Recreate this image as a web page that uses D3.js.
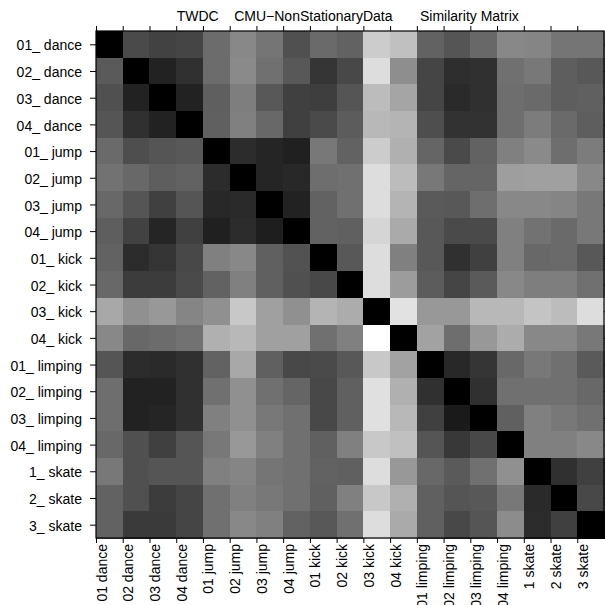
<!DOCTYPE html>
<html>
<head>
<meta charset="utf-8">
<script src="https://cdn.jsdelivr.net/npm/d3@7"></script>
<style>
  html, body { margin: 0; padding: 0; background: #fff; }
  svg { display: block; }
  text { font-family: "Liberation Sans", Arial, Helvetica, sans-serif; fill: #000; }
</style>
</head>
<body>
<svg id="chart" width="605" height="605"></svg>
<script>
const rowLabels = ["01_ dance","02_ dance","03_ dance","04_ dance","01_ jump","02_ jump","03_ jump","04_ jump",
  "01_ kick","02_ kick","03_ kick","04_ kick","01_ limping","02_ limping","03_ limping","04_ limping",
  "1_ skate","2_ skate","3_ skate"];
const colLabels = ["01 dance","02 dance","03 dance","04 dance","01 jump","02 jump","03 jump","04 jump",
  "01 kick","02 kick","03 kick","04 kick","01 limping","02 limping","03 limping","04 limping",
  "1 skate","2 skate","3 skate"];
const titleParts = ["TWDC", "CMU\u2212NonStationaryData", "Similarity Matrix"];

// dissimilarity level (0 = identical / black, 255 = white)
const r00 = [0,74,66,69,108,136,117,80,106,98,204,192,98,85,104,136,133,117,117];
const r01 = [90,0,34,48,108,138,112,88,53,72,221,142,69,46,48,112,120,94,88];
const r02 = [80,34,0,34,95,126,88,64,62,85,188,165,69,42,48,110,106,94,96];
const r03 = [85,48,34,0,96,128,104,64,74,92,184,180,78,50,50,110,124,106,94];
const r04 = [106,78,85,88,0,44,37,32,120,98,204,176,101,74,98,128,138,110,124];
const r05 = [114,104,94,98,44,0,37,40,110,112,221,188,120,101,101,158,160,160,136];
const r06 = [104,85,64,85,40,42,0,34,98,112,221,180,90,88,110,136,136,133,120];
const r07 = [94,66,37,64,32,44,30,0,98,96,213,170,88,74,74,128,114,106,120];
const r08 = [98,44,53,72,128,136,96,82,0,88,221,128,88,48,64,128,104,106,88];
const r09 = [104,60,60,74,98,128,96,80,72,0,221,156,92,69,90,136,126,126,112];
const r10 = [168,144,152,133,144,200,160,144,180,172,0,226,152,152,184,184,196,188,221];
const r11 = [136,104,108,114,176,184,160,160,112,128,255,0,162,110,152,172,136,136,120];
const r12 = [85,44,42,48,98,168,96,72,74,88,200,162,0,40,53,104,120,112,90];
const r13 = [110,34,34,48,112,144,112,101,72,96,224,176,48,0,48,112,112,112,104];
const r14 = [110,34,37,48,128,144,120,112,72,96,224,184,64,26,0,96,128,120,112];
const r15 = [104,80,64,85,120,152,128,112,96,128,200,192,85,56,72,0,128,128,136];
const r16 = [120,80,85,85,128,133,117,112,98,96,221,152,104,90,112,144,0,48,64];
const r17 = [98,80,60,69,112,128,120,112,96,128,200,176,96,85,88,120,42,0,72];
const r18 = [98,58,58,69,112,136,128,98,88,112,221,170,96,72,85,140,44,64,0];
const matrix = [r00,r01,r02,r03,r04,r05,r06,r07,r08,r09,r10,r11,r12,r13,r14,r15,r16,r17,r18];

const svg = d3.select("#chart");
const L = 96, R = 604, T = 31, B = 538;
const n = rowLabels.length;

const xBand = d3.scaleBand().domain(d3.range(n)).range([L, R]).padding(0);
const yBand = d3.scaleBand().domain(d3.range(n)).range([T, B]).padding(0);
const color = d3.scaleLinear().domain([0, 255]).range(["#000000", "#ffffff"]);

const cells = [];
matrix.forEach((row, i) => row.forEach((v, j) => cells.push({i, j, v})));

svg.append("g").selectAll("rect").data(cells).join("rect")
  .attr("x", d => xBand(d.j))
  .attr("y", d => yBand(d.i))
  .attr("width", xBand.bandwidth() + 0.5)
  .attr("height", yBand.bandwidth() + 0.5)
  .attr("fill", d => color(d.v))
  .attr("shape-rendering", "crispEdges");

// frame
svg.append("rect").attr("x", L).attr("y", T).attr("width", R - L).attr("height", B - T)
  .attr("fill", "none").attr("stroke", "#000").attr("stroke-width", 1.2);

// left axis (ticks at row centres)
const yPoint = d3.scalePoint().domain(d3.range(n)).range([T + yBand.bandwidth()/2, B - yBand.bandwidth()/2]);
const gl = svg.append("g").attr("transform", `translate(${L},0)`)
  .call(d3.axisLeft(yPoint).tickSize(6).tickPadding(8).tickFormat(i => rowLabels[i]));
gl.select(".domain").remove();
gl.selectAll("text").style("font-size", "14px").attr("dy", "0.4em");

// right axis ticks
const gr = svg.append("g").attr("transform", `translate(${R},0)`)
  .call(d3.axisRight(yPoint).tickSize(4).tickFormat(""));
gr.select(".domain").remove();

// top axis ticks at column left edges
const xEdge = d3.scaleLinear().domain([0, n]).range([L, R]);
const gt = svg.append("g").attr("transform", `translate(0,${T})`)
  .call(d3.axisTop(xEdge).tickValues(d3.range(n)).tickSize(5).tickFormat(""));
gt.select(".domain").remove();

// bottom axis with rotated labels
const gb = svg.append("g").attr("transform", `translate(0,${B})`)
  .call(d3.axisBottom(xEdge).tickValues(d3.range(n)).tickSize(5).tickFormat(i => colLabels[i]));
gb.select(".domain").remove();
gb.selectAll("text")
  .style("font-size", "14px")
  .attr("x", 0).attr("y", 0).attr("dy", 0)
  .attr("transform", "translate(10,6) rotate(-90)")
  .style("text-anchor", "end");

// title
const titleX = [176.7, 234.2, 420];
svg.append("g").selectAll("text").data(titleParts).join("text")
  .attr("x", (d, i) => titleX[i])
  .attr("y", 21)
  .style("font-size", "14px")
  .text(d => d);
</script>
</body>
</html>
